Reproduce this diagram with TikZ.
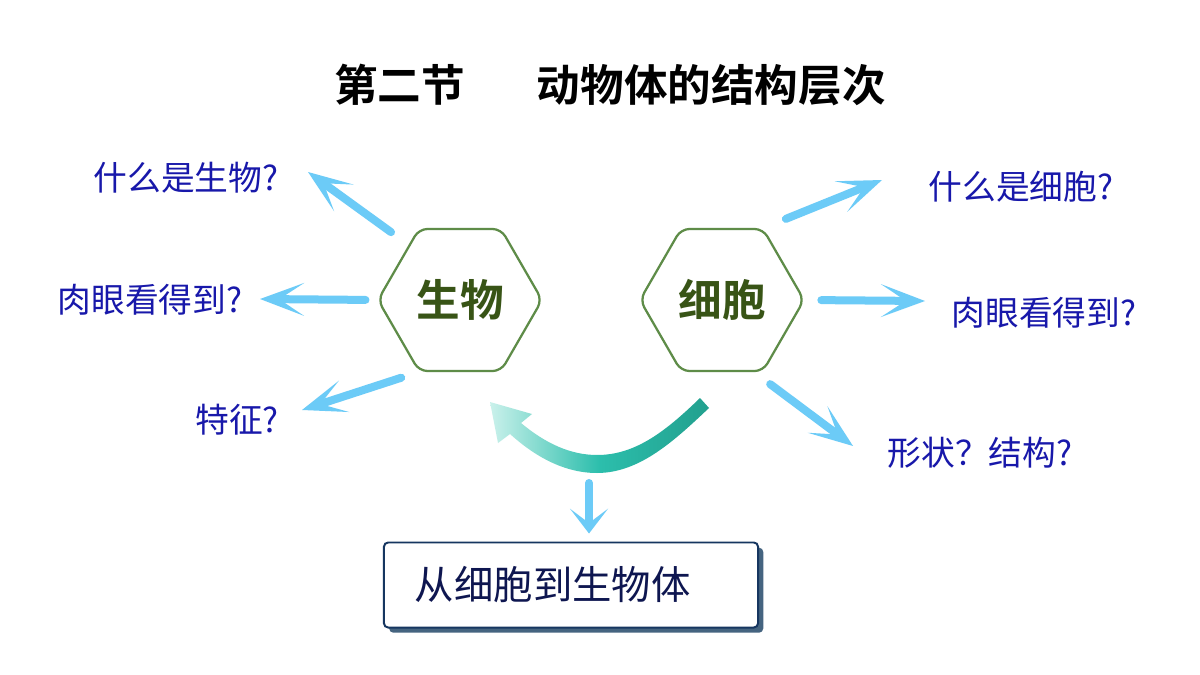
\documentclass[tikz,border=0pt]{standalone}
\usepackage{fontspec}
\setmainfont{Noto Sans CJK SC}[BoldFont={* Bold}]
\usetikzlibrary{arrows.meta,positioning,calc,shapes.geometric,shadows}
\definecolor{qblue}{RGB}{24,24,170}
\definecolor{arrblue}{RGB}{108,203,247}
\definecolor{hexline}{RGB}{94,140,72}
\definecolor{hextext}{RGB}{56,84,22}
\definecolor{tealdk}{RGB}{34,160,142}
\definecolor{tealmd}{RGB}{44,190,172}
\definecolor{teallt}{RGB}{202,241,235}
\definecolor{boxline}{RGB}{22,54,96}
\definecolor{boxtext}{RGB}{14,22,80}
\definecolor{boxshd}{RGB}{60,92,122}
\tikzset{
  ttl/.style={font=\fontsize{31pt}{36pt}\selectfont\bfseries, text=black},
  hexa/.style={regular polygon, regular polygon sides=6, minimum size=4.1cm,
               inner sep=0pt, draw=hexline, line width=1.6pt, rounded corners=6pt,
               font=\fontsize{31pt}{36pt}\selectfont\bfseries, text=hextext},
  qlab/.style={font=\fontsize{24pt}{28pt}\selectfont, text=qblue, inner sep=0pt},
  barr/.style={-{Stealth[length=1.1cm, width=0.82cm, inset=0.62cm]}, arrblue,
               line width=0.2cm, line cap=round},
  darr/.style={-{Stealth[length=0.62cm, width=0.95cm, inset=0.36cm]}, arrblue,
               line width=0.2cm, line cap=round},
  curv/.style={left color=teallt, right color=tealdk, middle color=tealmd},
  goal/.style={draw=boxline, line width=1.4pt, fill=white, rounded corners=3pt,
               minimum height=2.125cm, text width=7.8cm, inner xsep=0.775cm,
               align=left, font=\fontsize{28pt}{32pt}\selectfont, text=boxtext,
               drop shadow={shadow xshift=0.13cm, shadow yshift=-0.13cm,
                            fill=boxshd, opacity=0.95}},
}

\begin{document}
\begin{tikzpicture}[x=0.025cm, y=-0.025cm]
  \fill[white] (0,0) rectangle (1200,675);
  \node[ttl] (title) at (610,85) {第二节\hspace{1.65em}动物体的结构层次};

  % the two hexagons
  \node[hexa] (bio) at (460,300) {生物};
  \node[hexa] (cell) at (722,300) {细胞};

  % questions round them
  \node[qlab] (q1) at (186,178) {什么是生物?};
  \node[qlab] (q2) at (150,300) {肉眼看得到?};
  \node[qlab] (q3) at (237,420) {特征?};
  \node[qlab] (q4) at (1021,187) {什么是细胞?};
  \node[qlab] (q5) at (1044,313) {肉眼看得到?};
  \node[qlab] (q6) at (980,453) {形状？结构?};

  \coordinate (t1) at (308,172);
  \coordinate (t2) at (260,299);
  \coordinate (t3) at (302,410);
  \coordinate (t4) at (882,180);
  \coordinate (t5) at (925,301);
  \coordinate (t6) at (853,446);
  \draw[barr, shorten <=0.54cm] (bio.133) -- (t1);
  \draw[barr, shorten <=0.28cm] (bio.west) -- (t2);
  \draw[barr, shorten <=0.45cm] (bio.240) -- (t3);
  \draw[barr, shorten <=0.6cm] (cell.60) -- (t4);
  \draw[barr, shorten <=0.4cm] (cell.east) -- (t5);
  \draw[barr, shorten <=0.5cm] (cell.294) -- (t6);

  % curved arrow from cell back to bio
  \shade[curv] (700,398) -- (709,408)
    .. controls (675,440) and (640,473) .. (597,473)
    .. controls (560,473) and (530,452) .. (510,434)
    -- (498,443) -- (490,402) -- (532,414) -- (521,423)
    .. controls (545,443) and (570,455) .. (597,455)
    .. controls (635,455) and (665,432) .. (700,398) -- cycle;

  \node[goal] (box) at (571,585) {从细胞到生物体};
  \coordinate (dn) at (589,483);
  \draw[darr, shorten >=0.2cm] (dn) -- (dn |- box.north);
\end{tikzpicture}
\end{document}
